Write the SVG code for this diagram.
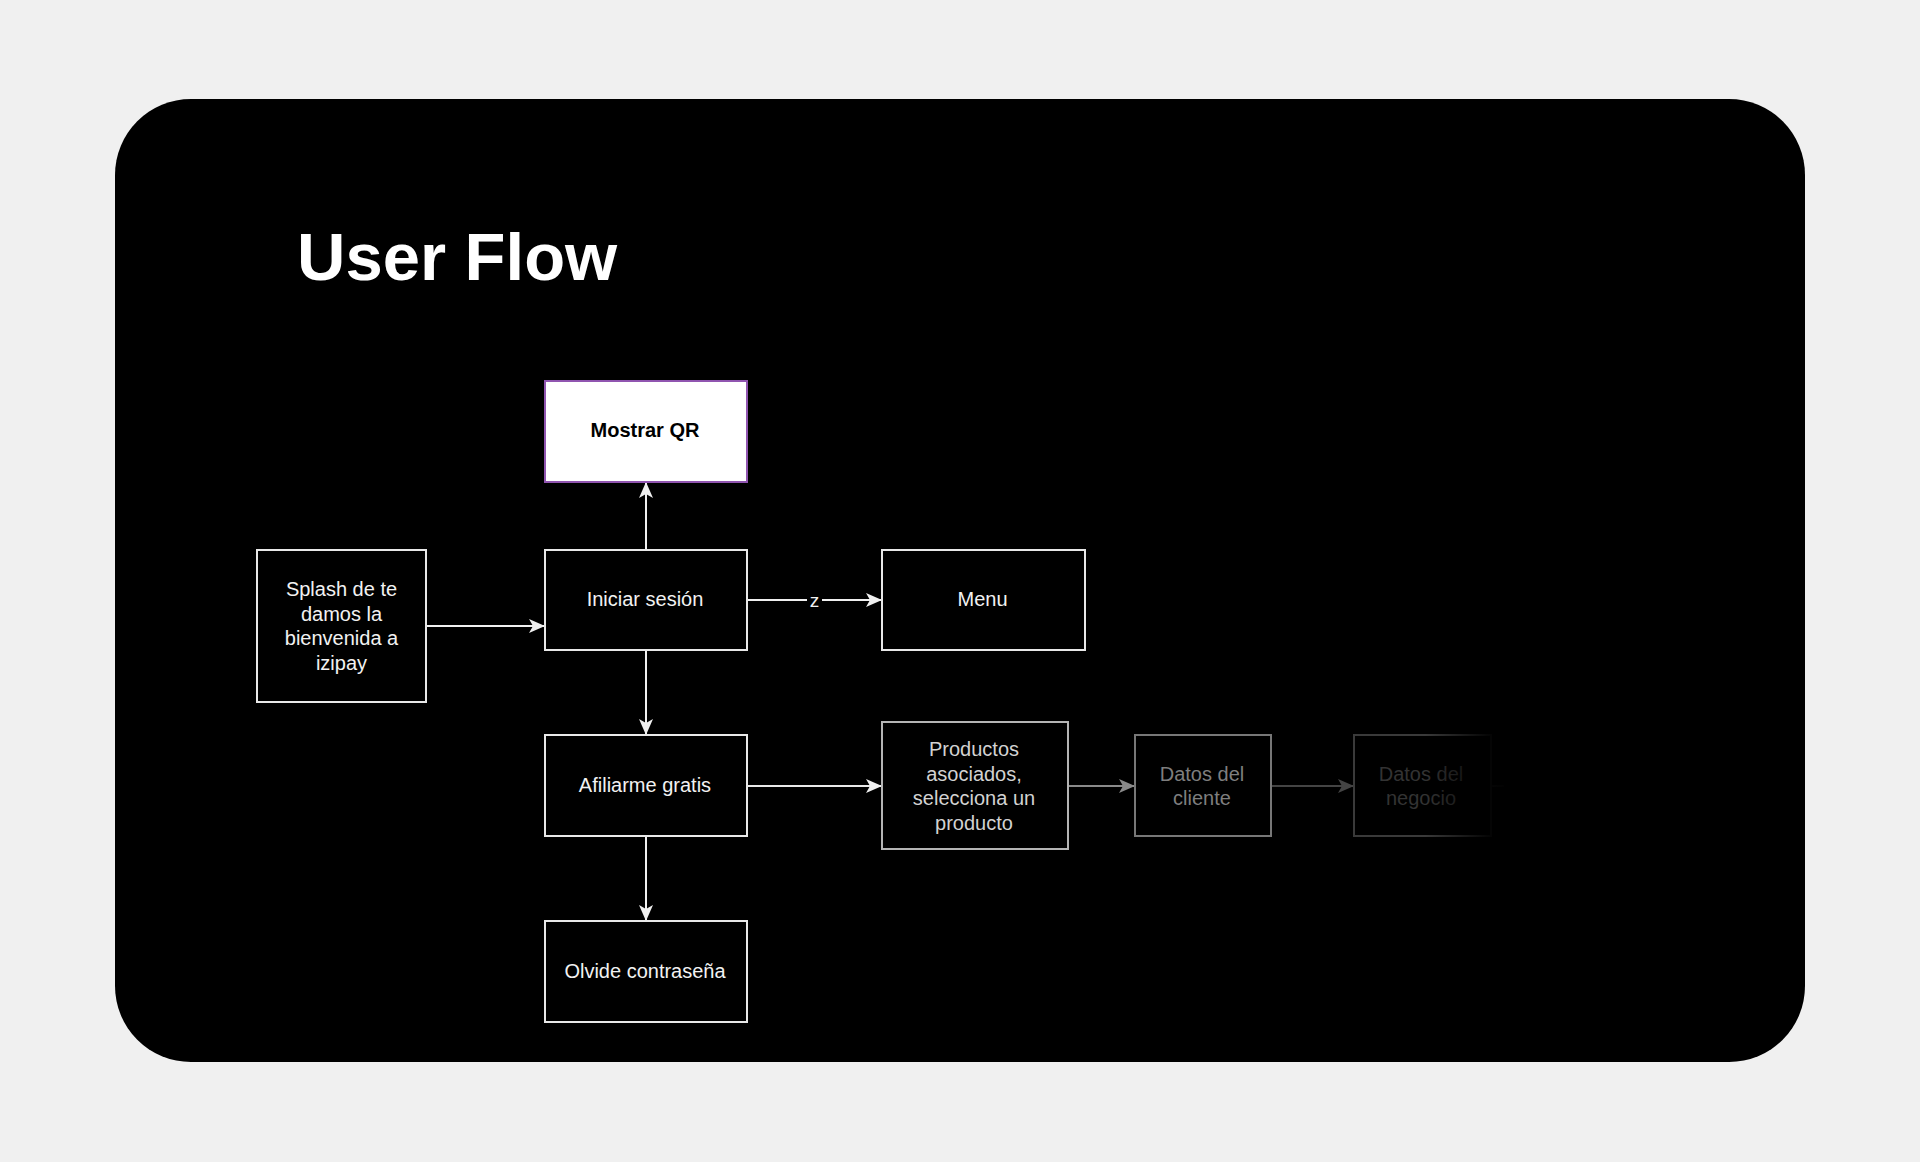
<svg xmlns="http://www.w3.org/2000/svg" width="1920" height="1162" viewBox="0 0 1920 1162">
  <style>
    .lbl { font-family: "Liberation Sans", Arial, Helvetica, sans-serif; font-size: 20px; text-anchor: middle; }
    .box { fill: #000; stroke-width: 2; }
    .w { stroke: #e8e8e8; }
    .wt { fill: #f2f2f2; }
    .edge { fill: none; stroke-width: 2; }
  </style>
  <defs>
    <marker id="arW" markerUnits="userSpaceOnUse" markerWidth="16" markerHeight="14" refX="15" refY="7" orient="auto" viewBox="0 0 16 14">
      <path d="M0,0 L16,7 L0,14 L4,7 Z" fill="#f0f0f0"/>
    </marker>
    <marker id="arG" markerUnits="userSpaceOnUse" markerWidth="16" markerHeight="14" refX="15" refY="7" orient="auto" viewBox="0 0 16 14">
      <path d="M0,0 L16,7 L0,14 L4,7 Z" fill="#8a8a8a"/>
    </marker>
    <marker id="arD" markerUnits="userSpaceOnUse" markerWidth="16" markerHeight="14" refX="15" refY="7" orient="auto" viewBox="0 0 16 14">
      <path d="M0,0 L16,7 L0,14 L4,7 Z" fill="#444"/>
    </marker>
    <linearGradient id="fade" x1="0" y1="0" x2="1" y2="0">
      <stop offset="0" stop-color="#000" stop-opacity="0"/>
      <stop offset="0.7" stop-color="#000" stop-opacity="0.9"/>
      <stop offset="1" stop-color="#000" stop-opacity="1"/>
    </linearGradient>
  </defs>

  <rect x="0" y="0" width="1920" height="1162" fill="#f0f0f0"/>
  <rect x="115" y="99" width="1690" height="963" rx="76" ry="76" fill="#000"/>

  <text x="297" y="280" font-family="Liberation Sans, Arial, Helvetica, sans-serif" font-size="67" font-weight="bold" fill="#fff">User Flow</text>

  <g id="connectors">
    <line class="edge" x1="427" y1="626" x2="544" y2="626" stroke="#f0f0f0" marker-end="url(#arW)"/>
    <line class="edge" x1="646" y1="550" x2="646" y2="483" stroke="#f0f0f0" marker-end="url(#arW)"/>
    <line class="edge" x1="748" y1="600" x2="881" y2="600" stroke="#f0f0f0" marker-end="url(#arW)"/>
    <rect x="807" y="590" width="15" height="19" fill="#000"/>
    <text x="814.5" y="607" font-family="Liberation Sans, Arial, Helvetica, sans-serif" font-size="19" text-anchor="middle" fill="#f0f0f0">z</text>
    <line class="edge" x1="646" y1="651" x2="646" y2="734" stroke="#f0f0f0" marker-end="url(#arW)"/>
    <line class="edge" x1="646" y1="837" x2="646" y2="920" stroke="#f0f0f0" marker-end="url(#arW)"/>
    <line class="edge" x1="748" y1="786" x2="881" y2="786" stroke="#e8e8e8" marker-end="url(#arW)"/>
    <line class="edge" x1="1069" y1="786" x2="1134" y2="786" stroke="#8a8a8a" marker-end="url(#arG)"/>
    <line class="edge" x1="1272" y1="786" x2="1353" y2="786" stroke="#444" marker-end="url(#arD)"/>
    <line class="edge" x1="1491" y1="786" x2="1504" y2="786" stroke="#333"/>
  </g>

  <g id="node-mostrar-qr">
    <rect x="545" y="381" width="202" height="101" fill="#fff" stroke="#9055b0" stroke-width="2"/>
    <text class="lbl" x="645" y="437" font-weight="bold" fill="#000">Mostrar QR</text>
  </g>

  <g id="node-splash">
    <rect class="box w" x="257" y="550" width="169" height="152"/>
    <text class="lbl wt" x="341.5" y="596">Splash de te</text>
    <text class="lbl wt" x="341.5" y="620.5">damos la</text>
    <text class="lbl wt" x="341.5" y="645">bienvenida a</text>
    <text class="lbl wt" x="341.5" y="669.5">izipay</text>
  </g>

  <g id="node-iniciar">
    <rect class="box w" x="545" y="550" width="202" height="100"/>
    <text class="lbl wt" x="645" y="606">Iniciar sesión</text>
  </g>

  <g id="node-menu">
    <rect class="box w" x="882" y="550" width="203" height="100"/>
    <text class="lbl wt" x="982.5" y="606">Menu</text>
  </g>

  <g id="node-afiliarme">
    <rect class="box w" x="545" y="735" width="202" height="101"/>
    <text class="lbl wt" x="645" y="792">Afiliarme gratis</text>
  </g>

  <g id="node-olvide">
    <rect class="box w" x="545" y="921" width="202" height="101"/>
    <text class="lbl wt" x="645" y="977.5">Olvide contraseña</text>
  </g>

  <g id="node-productos">
    <rect class="box" x="882" y="722" width="186" height="127" stroke="#b4b4b4"/>
    <text class="lbl" x="974" y="756" fill="#d2d2d2">Productos</text>
    <text class="lbl" x="974" y="780.5" fill="#d2d2d2">asociados,</text>
    <text class="lbl" x="974" y="805" fill="#d2d2d2">selecciona un</text>
    <text class="lbl" x="974" y="829.5" fill="#d2d2d2">producto</text>
  </g>

  <g id="node-datos-cliente">
    <rect class="box" x="1135" y="735" width="136" height="101" stroke="#777"/>
    <text class="lbl" x="1202" y="780.5" fill="#7e7e7e">Datos del</text>
    <text class="lbl" x="1202" y="805" fill="#7e7e7e">cliente</text>
  </g>

  <g id="node-datos-negocio">
    <rect class="box" x="1354" y="735" width="137" height="101" stroke="#3a3a3a"/>
    <text class="lbl" x="1421" y="780.5" fill="#333">Datos del</text>
    <text class="lbl" x="1421" y="805" fill="#333">negocio</text>
  </g>

  <rect x="1425" y="725" width="90" height="120" fill="url(#fade)"/>
</svg>
